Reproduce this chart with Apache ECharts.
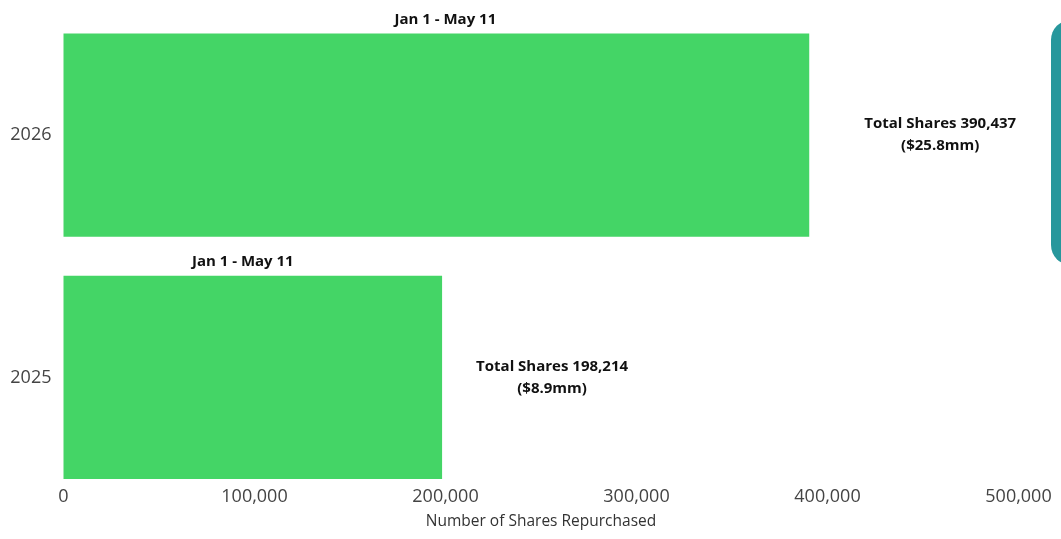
<!DOCTYPE html>
<html>
<head>
<meta charset="utf-8">
<script src="https://cdn.jsdelivr.net/npm/echarts@6/dist/echarts.min.js"></script>
<style>
html,body{margin:0;padding:0;background:#fff;}
#chart{width:1061px;height:539px;}
</style>
</head>
<body>
<div id="chart"></div>
<script>
const categories = ['2025', '2026'];
const sharesRepurchased = [198214, 390437];
const dollarAmounts = ['$8.9mm', '$25.8mm'];
const periodLabels = ['Jan 1 - May 11', 'Jan 1 - May 11'];
const axisTitle = 'Number of Shares Repurchased';

const font = 'Open Sans';
const chart = echarts.init(document.getElementById('chart'));

const rightDist = [34, 55];
const topOffset = [[-10, 0], [9, 0]];

chart.setOption({
  animation: false,
  grid: { left: 63.5, right: 42.5, top: 14, bottom: 40.5, containLabel: false },
  xAxis: {
    type: 'value', min: 0, max: 500000, interval: 100000,
    axisLine: { show: false }, axisTick: { show: false }, splitLine: { show: false },
    axisLabel: {
      margin: -11, color: '#444', fontFamily: font, fontSize: 18,
      formatter: v => v.toLocaleString('en-US')
    },
    name: axisTitle, nameLocation: 'middle', nameGap: 15,
    nameTextStyle: { color: '#333', fontFamily: font, fontSize: 15.5 }
  },
  yAxis: {
    type: 'category', data: categories,
    axisLine: { show: false }, axisTick: { show: false },
    axisLabel: { color: '#444', fontFamily: font, fontSize: 18, margin: 12 }
  },
  series: [
    {
      type: 'bar', barCategoryGap: '16%',
      itemStyle: { color: '#44d566' },
      data: sharesRepurchased.map((v, i) => ({
        value: v,
        label: {
          show: true, position: 'right', distance: rightDist[i],
          color: '#111', fontFamily: font, fontWeight: 'bold', fontSize: 15, lineHeight: 22,
          align: 'left',
          formatter: () => '{a|Total Shares ' + v.toLocaleString('en-US') + '}\n{a|(' + dollarAmounts[i] + ')}',
          rich: { a: { align: 'center', fontFamily: font, fontWeight: 'bold', fontSize: 15, color: '#111', lineHeight: 22 } }
        }
      }))
    },
    {
      type: 'bar', barCategoryGap: '16%', barGap: '-100%', silent: true,
      itemStyle: { color: 'rgba(0,0,0,0)' },
      data: sharesRepurchased.map((v, i) => ({
        value: v,
        label: {
          show: true, position: 'top', distance: 6, offset: topOffset[i],
          color: '#111', fontFamily: font, fontWeight: 'bold', fontSize: 15,
          formatter: () => periodLabels[i]
        }
      }))
    }
  ],
  graphic: [{
    type: 'rect', left: 1051, top: 20,
    shape: { width: 40, height: 245, r: 22 },
    style: { fill: '#27979c' }
  }]
});
</script>
</body>
</html>
